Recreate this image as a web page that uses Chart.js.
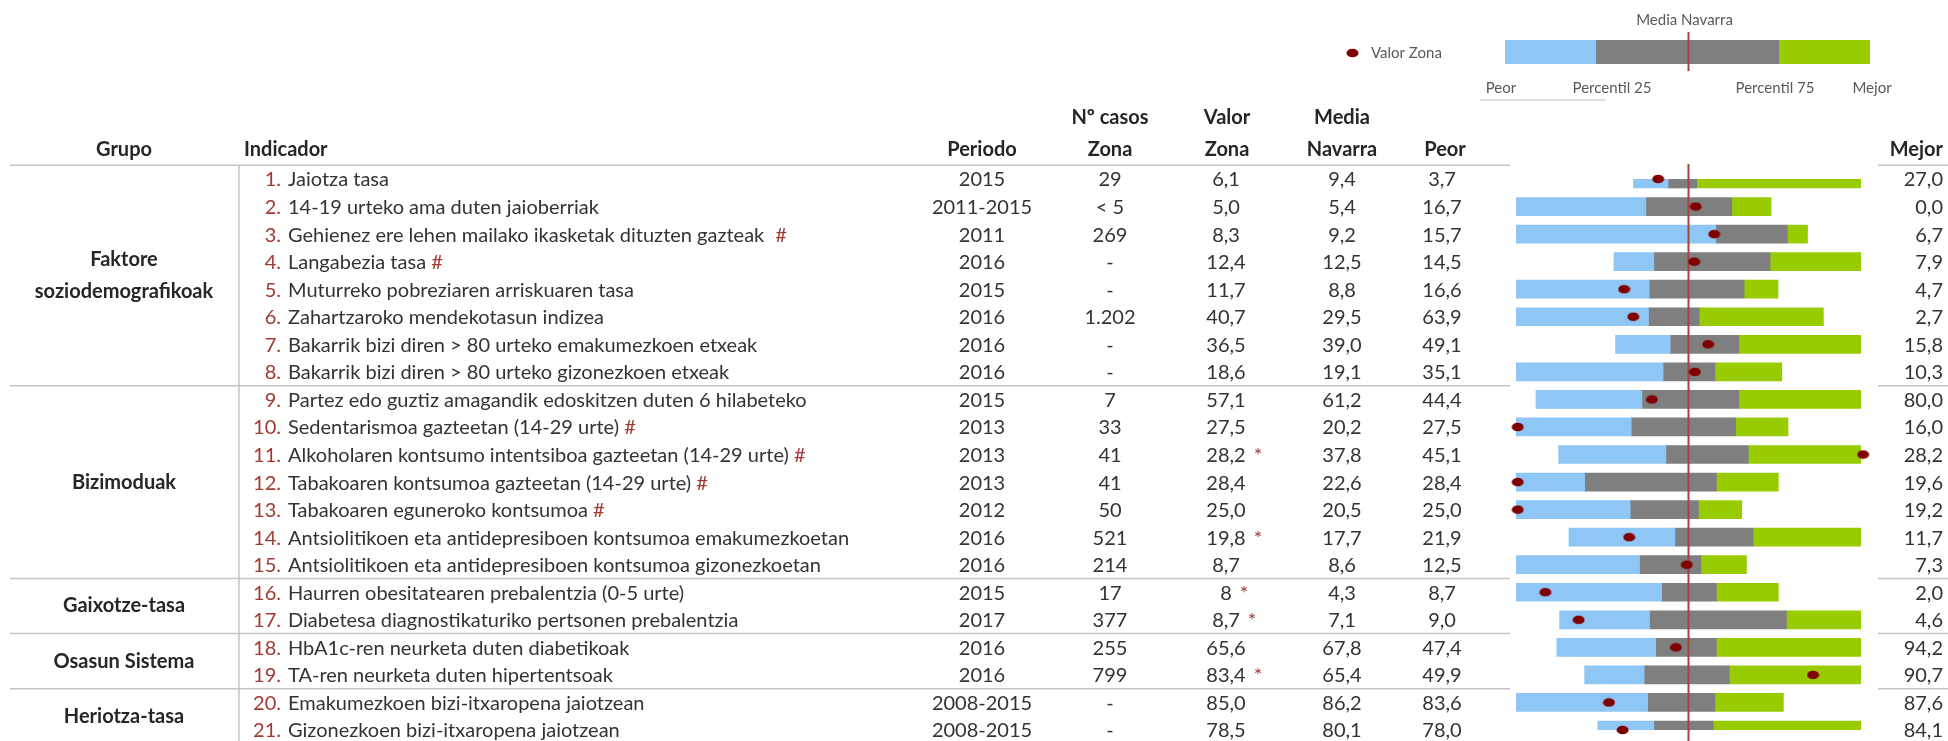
<!DOCTYPE html>
<html>
<head>
<meta charset="utf-8">
<script src="https://cdn.jsdelivr.net/npm/chart.js@4.4.1/dist/chart.umd.min.js"></script>
<style>
  html, body { margin: 0; padding: 0; background: #fff; }
  #wrap { width: 1948px; height: 741px; position: relative; }
</style>
</head>
<body>
<div id="wrap"><canvas id="spineChart"></canvas></div>
<script>
// table columns
const grupos = [
  { lines: ['Faktore', 'soziodemografikoak'], from: 0, to: 7 },
  { lines: ['Bizimoduak'], from: 8, to: 14 },
  { lines: ['Gaixotze-tasa'], from: 15, to: 16 },
  { lines: ['Osasun Sistema'], from: 17, to: 18 },
  { lines: ['Heriotza-tasa'], from: 19, to: 20 }
];
const indicadores = [
  'Jaiotza tasa',
  '14-19 urteko ama duten jaioberriak',
  'Gehienez ere lehen mailako ikasketak dituzten gazteak',
  'Langabezia tasa',
  'Muturreko pobreziaren arriskuaren tasa',
  'Zahartzaroko mendekotasun indizea',
  'Bakarrik bizi diren > 80 urteko emakumezkoen etxeak',
  'Bakarrik bizi diren > 80 urteko gizonezkoen etxeak',
  'Partez edo guztiz amagandik edoskitzen duten 6 hilabeteko',
  'Sedentarismoa gazteetan (14-29 urte)',
  'Alkoholaren kontsumo intentsiboa gazteetan (14-29 urte)',
  'Tabakoaren kontsumoa gazteetan (14-29 urte)',
  'Tabakoaren eguneroko kontsumoa',
  'Antsiolitikoen eta antidepresiboen kontsumoa emakumezkoetan',
  'Antsiolitikoen eta antidepresiboen kontsumoa gizonezkoetan',
  'Haurren obesitatearen prebalentzia (0-5 urte)',
  'Diabetesa diagnostikaturiko pertsonen prebalentzia',
  'HbA1c-ren neurketa duten diabetikoak',
  'TA-ren neurketa duten hipertentsoak',
  'Emakumezkoen bizi-itxaropena jaiotzean',
  'Gizonezkoen bizi-itxaropena jaiotzean'
];
const almohadilla = [2, 3, 9, 10, 11, 12];
const periodos = ['2015', '2011-2015', '2011', '2016', '2015', '2016', '2016', '2016', '2015', '2013', '2013',
  '2013', '2012', '2016', '2016', '2015', '2017', '2016', '2016', '2008-2015', '2008-2015'];
const casos = ['29', '< 5', '269', '-', '-', '1.202', '-', '-', '7', '33', '41', '41', '50', '521', '214',
  '17', '377', '255', '799', '-', '-'];
const valorZona = ['6,1', '5,0', '8,3', '12,4', '11,7', '40,7', '36,5', '18,6', '57,1', '27,5', '28,2', '28,4',
  '25,0', '19,8', '8,7', '8', '8,7', '65,6', '83,4', '85,0', '78,5'];
const estrellas = [10, 13, 15, 16, 18];
const mediaNavarra = ['9,4', '5,4', '9,2', '12,5', '8,8', '29,5', '39,0', '19,1', '61,2', '20,2', '37,8', '22,6',
  '20,5', '17,7', '8,6', '4,3', '7,1', '67,8', '65,4', '86,2', '80,1'];
const peor = ['3,7', '16,7', '15,7', '14,5', '16,6', '63,9', '49,1', '35,1', '44,4', '27,5', '45,1', '28,4',
  '25,0', '21,9', '12,5', '8,7', '9,0', '47,4', '49,9', '83,6', '78,0'];
const mejor = ['27,0', '0,0', '6,7', '7,9', '4,7', '2,7', '15,8', '10,3', '80,0', '16,0', '28,2', '19,6',
  '19,2', '11,7', '7,3', '2,0', '4,6', '94,2', '90,7', '87,6', '84,1'];

// standardized positions (media navarra = 0, -100 worst / +100 best)
const peorPos = [-31.9, -100, -100, -43.2, -100, -100, -42.3, -100, -88.4, -100, -75.3, -100, -100, -69.3,
  -100, -100, -74.7, -76.3, -60.2, -100, -52.5];
const p25Pos = [-11.8, -24.7, 15.8, -20.1, -22.8, -23.2, -10.6, -14.7, -27, -33.2, -13.1, -60.2, -33.8, -7.9,
  -28.4, -15.6, -22.6, -19.1, -25.7, -23.7, -20.1];
const p75Pos = [4.8, 25.1, 57.3, 47.3, 32.2, 6.2, 29.2, 15.3, 29.2, 27.4, 34.7, 16.2, 5.8, 37.5, 7.1, 16.2,
  56.8, 16.2, 23.6, 15.3, 14.3];
const mejorPos = [100, 47.9, 69, 100, 51.9, 78.2, 100, 54.1, 100, 57.7, 100, 52.1, 30.9, 100, 33.6, 52.1,
  100, 100, 100, 55, 100];
const zonaPos = [-17.6, 4.2, 14.9, 3.3, -37.3, -32, 11.4, 3.7, -21.2, -99, 101.2, -99, -99, -34.4, -1, -83,
  -63.7, -7.3, 72.2, -46.1, -38.2];

const FONT = 'Lato, "Open Sans", sans-serif';
const azul = '#8ec6f5';
const gris = '#7f7f7f';
const verde = '#99cc00';
const granate = '#800000';
const lineaMedia = '#a8423a';
const rojo = '#a03a32';
const texto = '#333333';
const lineaTabla = '#c4c4c4';

const rows = indicadores.map((_, i) => String(i + 1));

// elliptical dot like the original
const dot = document.createElement('canvas');
dot.width = 13; dot.height = 10;
(() => {
  const c = dot.getContext('2d');
  c.fillStyle = granate;
  c.beginPath();
  c.ellipse(6.5, 5, 6, 4.3, 0, 0, Math.PI * 2);
  c.fill();
})();

const hline = (ctx, x1, x2, y) => {
  ctx.beginPath(); ctx.moveTo(x1, y); ctx.lineTo(x2, y); ctx.stroke();
};

const tablePlugin = {
  id: 'tabla',
  beforeDatasetDraw(chart, args) {
    if (args.index !== 3) return;
    // media navarra line: above the bars, under the dots
    const ctx = chart.ctx;
    const x = chart.scales.x.getPixelForValue(0);
    const top = chart.scales.y.getPixelForValue(0) - 15;
    ctx.save();
    ctx.strokeStyle = lineaMedia;
    ctx.lineWidth = 2;
    ctx.beginPath(); ctx.moveTo(x, top); ctx.lineTo(x, chart.height); ctx.stroke();
    ctx.restore();
  },
  afterDraw(chart) {
    const ctx = chart.ctx;
    const ys = chart.scales.y;
    const xs = chart.scales.x;
    const rowY = i => ys.getPixelForValue(i);
    const half = (rowY(1) - rowY(0)) / 2;
    ctx.save();

    // lines
    ctx.strokeStyle = lineaTabla;
    ctx.lineWidth = 1.5;
    const headY = rowY(0) - half;
    hline(ctx, 10, 1510, headY);
    hline(ctx, 1878, 1948, headY);
    grupos.slice(1).forEach(g => {
      const y = rowY(g.from) - half;
      hline(ctx, 10, 1510, y);
      hline(ctx, 1878, 1948, y);
    });
    ctx.beginPath(); ctx.moveTo(239, headY); ctx.lineTo(239, chart.height); ctx.stroke();
    ctx.lineWidth = 1;
    hline(ctx, 1480, 1606, 100);

    // headers
    ctx.textBaseline = 'middle';
    ctx.fillStyle = '#262626';
    ctx.font = `bold 20px ${FONT}`;
    ctx.textAlign = 'center';
    ctx.fillText('Grupo', 124, 150);
    [['Periodo', 982], ['Zona', 1110], ['Zona', 1227], ['Navarra', 1342], ['Peor', 1445]]
      .forEach(([t, x]) => ctx.fillText(t, x, 150));
    [['Nº casos', 1110], ['Valor', 1227], ['Media', 1342]].forEach(([t, x]) => ctx.fillText(t, x, 118));
    ctx.textAlign = 'left';
    ctx.fillText('Indicador', 244, 150);
    ctx.textAlign = 'right';
    ctx.fillText('Mejor', 1943, 150);

    // group labels
    ctx.textAlign = 'center';
    grupos.forEach(g => {
      const mid = (rowY(g.from) + rowY(g.to)) / 2;
      const n = g.lines.length;
      g.lines.forEach((t, k) => ctx.fillText(t, 124, mid + (k - (n - 1) / 2) * 32));
    });

    // rows
    ctx.font = `20px ${FONT}`;
    indicadores.forEach((ind, i) => {
      const y = rowY(i) + 1;
      ctx.fillStyle = rojo;
      ctx.textAlign = 'right';
      ctx.fillText(`${i + 1}.`, 281, y);
      ctx.fillStyle = texto;
      ctx.textAlign = 'left';
      ctx.fillText(ind, 288, y);
      if (almohadilla.includes(i)) {
        const w = ctx.measureText(ind + ' ').width;
        ctx.fillStyle = rojo;
        ctx.fillText('#', 288 + w + (i === 2 ? 6 : 0), y);
      }
      ctx.fillStyle = texto;
      ctx.textAlign = 'center';
      ctx.fillText(periodos[i], 982, y);
      ctx.fillText(casos[i], 1110, y);
      ctx.fillText(valorZona[i], 1226, y);
      ctx.fillText(mediaNavarra[i], 1342, y);
      ctx.fillText(peor[i], 1442, y);
      if (estrellas.includes(i)) {
        const w = ctx.measureText(valorZona[i]).width;
        ctx.fillStyle = rojo;
        ctx.textAlign = 'left';
        ctx.fillText('*', 1226 + w / 2 + 8, y);
      }
      ctx.fillStyle = texto;
      ctx.textAlign = 'right';
      ctx.fillText(mejor[i], 1943, y);
    });

    // legend
    const mx = xs.getPixelForValue(0);
    ctx.fillStyle = azul; ctx.fillRect(1505, 40, 91, 24);
    ctx.fillStyle = gris; ctx.fillRect(1596, 40, 183, 24);
    ctx.fillStyle = verde; ctx.fillRect(1779, 40, 91, 24);
    ctx.strokeStyle = lineaMedia; ctx.lineWidth = 2;
    ctx.beginPath(); ctx.moveTo(mx, 32); ctx.lineTo(mx, 71); ctx.stroke();
    ctx.drawImage(dot, 1346, 48);
    ctx.font = `15px ${FONT}`;
    ctx.fillStyle = '#595959';
    ctx.textAlign = 'center';
    ctx.fillText('Media Navarra', mx - 4, 20);
    ctx.fillText('Peor', 1501, 88);
    ctx.fillText('Percentil 25', 1612, 88);
    ctx.fillText('Percentil 75', 1775, 88);
    ctx.fillText('Mejor', 1872, 88);
    ctx.textAlign = 'left';
    ctx.fillText('Valor Zona', 1371, 53);
    ctx.restore();
  }
};

const barSet = (label, color, from, to) => ({
  label,
  data: from.map((v, i) => [v, to[i]]),
  backgroundColor: color,
  borderWidth: 0,
  barThickness: 18,
  grouped: false,
  order: 1
});

new Chart(document.getElementById('spineChart'), {
  type: 'bar',
  data: {
    labels: rows,
    datasets: [
      barSet('Peor - Percentil 25', azul, peorPos, p25Pos),
      barSet('Percentil 25 - Percentil 75', gris, p25Pos, p75Pos),
      barSet('Percentil 75 - Mejor', verde, p75Pos, mejorPos),
      {
        type: 'scatter',
        label: 'Valor Zona',
        data: zonaPos.map((v, i) => ({ x: v, y: i })),
        pointStyle: dot,
        clip: false,
        order: 0
      }
    ]
  },
  options: {
    indexAxis: 'y',
    responsive: true,
    maintainAspectRatio: false,
    animation: false,
    layout: { padding: { left: 1516, right: 87, top: 179, bottom: 11 } },
    scales: {
      x: { type: 'linear', min: -100, max: 100, display: false },
      y: { type: 'category', offset: false, display: false }
    },
    plugins: { legend: { display: false }, tooltip: { enabled: false } }
  },
  plugins: [tablePlugin]
});
</script>
</body>
</html>
